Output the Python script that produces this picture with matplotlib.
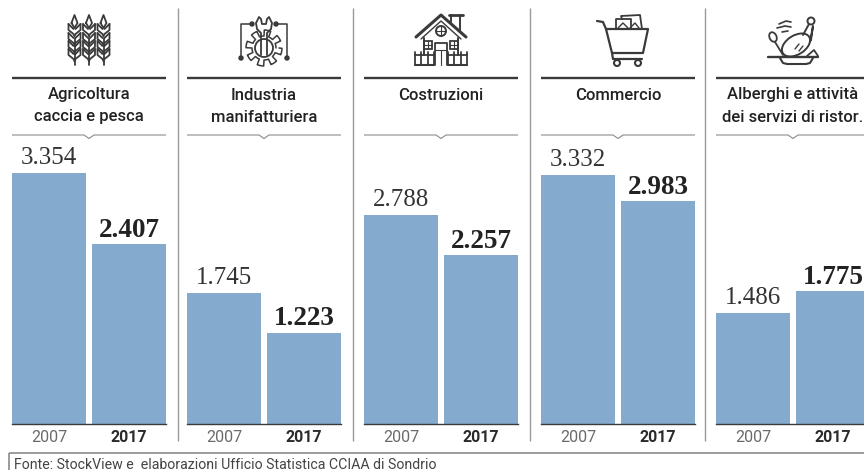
import matplotlib
matplotlib.use('Agg')
import matplotlib.pyplot as plt
import numpy as np
from matplotlib.patches import Circle, Rectangle, Ellipse
from matplotlib.transforms import ScaledTranslation

# dati
settori = ['Agricoltura\ncaccia e pesca', 'Industria\nmanifatturiera', 'Costruzioni',
           'Commercio', 'Alberghi e attività\ndei servizi di ristor.']
anni = ['2007', '2017']
v2007 = [3354, 1745, 2788, 3332, 1486]
v2017 = [2407, 1223, 2257, 2983, 1775]
etich_2007 = ['3.354', '1.745', '2.788', '3.332', '1.486']
etich_2017 = ['2.407', '1.223', '2.257', '2.983', '1.775']
fonte = 'Fonte: StockView e  elaborazioni Ufficio Statistica CCIAA di Sondrio'

W, H = 864, 470
BLU = '#84abcd'
SCURO = '#3a3a3a'
GRIGIO = '#8c8c8c'
left_px = [12, 187, 364, 541, 716]
sep_px = [178, 353, 530, 705]
sans = ['Roboto', 'DejaVu Sans']

fig = plt.figure(figsize=(W / 100, H / 100), dpi=100, facecolor='white')

# overlay in pixel
ov = fig.add_axes([0, 0, 1, 1])
ov.set_xlim(0, W)
ov.set_ylim(H, 0)
ov.axis('off')


def ln(xs, ys, lw=1.3, c=SCURO, cap='round'):
    ov.plot(xs, ys, color=c, lw=lw, solid_capstyle=cap, solid_joinstyle='round')


def cerchio(x, y, r, lw=1.3, pieno=False):
    ov.add_patch(Circle((x, y), r, fill=pieno, fc=SCURO if pieno else 'none', ec=SCURO, lw=lw))


def icona_grano(cx):
    for dx in [-14.5, 0, 14.5]:
        x = cx + dx
        ln([x, x], [38, 65])
        ln([x - 3, x, x + 3, x, x - 3], [23, 15, 23, 28, 23])
        for y in [24, 33, 41, 49]:
            ln([x - 6, x - 6, x - 1, x], [y, y + 6, y + 10, y + 12])
            ln([x + 6, x + 6, x + 1, x], [y, y + 6, y + 10, y + 12])
            ln([x - 6, x - 1], [y, y + 5])
            ln([x + 6, x + 1], [y, y + 5])


def icona_ingranaggio(cx):
    cy = 48
    ang = np.linspace(0, 2 * np.pi, 361)
    r = 15 + 3 * np.sign(np.sin(8 * ang))
    ln(cx + r * np.cos(ang), cy + r * np.sin(ang), lw=1.1)
    cerchio(cx, cy, 9)
    ln([cx - 3, cx - 3, cx - 7, cx - 8, cx - 5, cx - 3, cx - 2, cx + 2, cx + 3, cx + 5, cx + 8, cx + 7, cx + 3, cx + 3],
       [55, 33, 29, 23, 17, 19, 24, 24, 19, 17, 23, 29, 33, 55])
    ln([cx - 23, cx - 23, cx - 12], [58, 24, 24], lw=1.1)
    ln([cx + 23, cx + 23, cx + 12], [58, 24, 24], lw=1.1)
    for px, py in [(cx - 23, 58), (cx + 23, 58), (cx - 12, 24), (cx + 12, 24)]:
        cerchio(px, py, 1.8, pieno=True)


def icona_casa(cx):
    ln([cx - 25, cx, cx + 25], [37, 15, 37], lw=2.2)
    ln([cx - 20, cx, cx + 20], [39, 21, 39], lw=1.0)
    ln([cx - 17, cx - 17], [38, 55], lw=1.4)
    ln([cx + 17, cx + 17], [38, 55], lw=1.4)
    ln([cx + 10, cx + 10], [15, 22], lw=1.4)
    ln([cx + 19, cx + 19], [15, 30], lw=1.4)
    ln([cx + 8, cx + 22], [14.5, 14.5], lw=2)
    cerchio(cx, 31, 5, lw=1.4)
    ln([cx, cx], [26, 36], lw=0.8)
    ln([cx - 5, cx + 5], [31, 31], lw=0.8)
    for dx in [-17, 9]:
        ov.add_patch(Rectangle((cx + dx, 41), 8, 8, fill=False, ec=SCURO, lw=1.3))
        ln([cx + dx + 4] * 2, [41, 49], lw=0.8)
        ln([cx + dx, cx + dx + 8], [45, 45], lw=0.8)
    ln([cx - 6, cx - 6, cx + 6, cx + 6], [65, 43, 43, 65], lw=1.3)
    ln([cx, cx], [50, 65], lw=0.8)
    ln([cx - 6, cx + 6], [50, 50], lw=0.8)
    # staccionata
    for xa, xb in [(cx - 26, cx - 7), (cx + 7, cx + 26)]:
        ln([xa, xb], [55, 55], lw=1.3)
        ln([xa, xb], [65, 65], lw=1.5)
        for xf in np.linspace(xa, xb, 4):
            ln([xf, xf], [52, 65], lw=1.3)


def icona_carrello(cx):
    ln([cx - 21, cx - 15, cx - 12, cx - 6, cx - 5, cx + 24], [21, 22, 29, 53, 59, 59], lw=1.6)
    ln([cx - 12, cx + 30, cx + 25, cx - 6], [29, 29, 53, 53], lw=1.6)
    ln([cx - 2, cx - 2, cx + 13, cx + 13], [29, 19, 19, 29], lw=1.3)
    ln([cx + 4, cx + 3, cx + 22, cx + 24], [19, 16, 15, 29], lw=1.3)
    ln([cx, cx + 5, cx + 10], [28, 23, 28], lw=1.0)
    ln([cx + 12, cx + 17, cx + 21], [28, 23, 28], lw=1.0)
    for dx in [-1, 20]:
        cerchio(cx + dx, 63, 3, lw=1.5)


def icona_piatto(cx):
    ln([cx - 25, cx + 25], [57, 57], lw=1.7)
    ln([cx - 13, cx - 10, cx - 6, cx + 13, cx + 17, cx + 20], [58, 63, 64, 64, 63, 58], lw=1.5)
    ov.add_patch(Ellipse((cx + 3, 45), 31, 19, angle=-32, fill=False, ec=SCURO, lw=1.4))
    ln([cx + 10, cx + 16], [35, 24], lw=1.4)
    ln([cx + 17, cx + 20, cx + 18], [42, 26, 40], lw=1.4)
    cerchio(cx + 18, 21, 3.5, lw=1.4)
    ov.add_patch(Ellipse((cx - 20, 37), 7, 10, angle=-25, fill=False, ec=SCURO, lw=1.3))
    ln([cx - 18, cx - 10], [42, 55], lw=1.3)
    ln([cx - 14, cx - 7, cx - 2], [24, 21, 22], lw=1.2)
    ln([cx - 16, cx - 8, cx - 2], [28, 26, 27], lw=1.2)
    ln([cx - 11, cx - 5], [32, 31], lw=1.2)
    ln([cx + 2, cx + 6], [49, 44], lw=1)
    ln([cx + 6, cx + 10], [51, 46], lw=1)
    ln([cx + 14, cx + 21, cx + 25], [56, 50, 56], lw=1.3)


icone = [icona_grano, icona_ingranaggio, icona_casa, icona_carrello, icona_piatto]

# separatori verticali
for x in sep_px:
    ln([x, x], [8, 441], lw=1.0, c='#9a9a9a', cap='butt')

# un asse per ogni settore, stessa scala
for i, nome in enumerate(settori):
    x0 = left_px[i]
    ax = fig.add_axes([x0 / W, (H - 424) / H, 154 / W, 320 / H])
    ax.patch.set_alpha(0)
    ax.set_xlim(-0.4625, 1.4625)
    ax.set_ylim(0, 320 / 0.0748)
    ax.bar([0, 1], [v2007[i], v2017[i]], width=0.925, color=BLU)
    for s in ['top', 'left', 'right']:
        ax.spines[s].set_visible(False)
    ax.spines['bottom'].set_color(SCURO)
    ax.spines['bottom'].set_linewidth(1.0)
    ax.set_yticks([])
    ax.set_xticks([0, 1])
    ax.set_xticklabels(anni, fontsize=11.5, family=sans, color='#6b6b6b')
    lab = ax.get_xticklabels()
    lab[0].set_transform(lab[0].get_transform() + ScaledTranslation(-3 / 100, 0, fig.dpi_scale_trans))
    lab[1].set_fontweight('bold')
    lab[1].set_color('#2a2a2a')
    ax.tick_params(axis='x', length=0, pad=4)
    ax.text(0, v2007[i] + 55, etich_2007[i], ha='center', va='bottom', fontsize=18,
            family='Liberation Serif', color='#333333')
    ax.text(1, v2017[i] + 15, etich_2017[i], ha='center', va='bottom', fontsize=19.5,
            family='Liberation Serif', fontweight='bold', color='#222222')

    cx = x0 + 77
    ln([x0, x0 + 154], [77.5, 77.5], lw=1.7, cap='butt')
    ln([x0, cx - 5, cx, cx + 5, x0 + 154], [135, 135, 138.5, 135, 135], lw=0.8, c=GRIGIO, cap='butt')
    righe = nome.split('\n')
    ov.text(cx, 95, righe[0], ha='center', va='center',
            fontsize=12, fontweight='medium', family=sans, color='#222222')
    if len(righe) > 1:
        ov.text(cx, 117, righe[1], ha='center', va='center',
                fontsize=12, fontweight='medium', family=sans, color='#222222')
    icone[i](cx)

# riquadro fonte
ov.add_patch(Rectangle((9, 452.5), W, 30, fill=False, ec='#8a8a8a', lw=1.2))
ov.text(14, 465, fonte, ha='left', va='center', fontsize=10.2, family=sans, color='#444444')

fig.savefig('out.png', dpi=100, facecolor='white')
plt.close(fig)
